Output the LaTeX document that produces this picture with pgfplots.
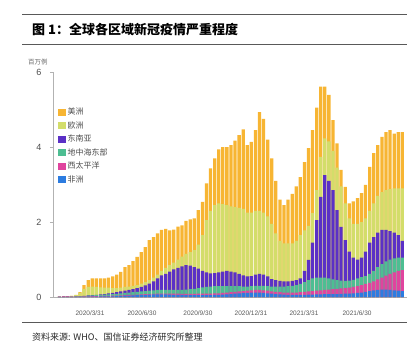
\documentclass[border=0pt]{standalone}
\usepackage{fontspec}
\setmainfont{Liberation Sans}
\newfontfamily\cjk{Noto Sans CJK SC}
\usepackage{pgfplots}
\pgfplotsset{compat=1.18}
\usepackage{pgfplotstable}
\definecolor{amr}{HTML}{F7B533}
\definecolor{eur}{HTML}{D3DD6A}
\definecolor{sea}{HTML}{5B30C6}
\definecolor{emr}{HTML}{4DBE92}
\definecolor{wpr}{HTML}{E0449E}
\definecolor{afr}{HTML}{2C7CE0}
% cumulative tops of each stacked layer (millions per week)
\pgfplotstableread{
k A W E S U T
-5 0 0.01 0.01 0.01 0.01 0.01
-4 0 0.015 0.015 0.015 0.015 0.015
-3 0 0.015 0.015 0.015 0.02 0.02
-2 0 0.01 0.012 0.012 0.03 0.03
-1 0.001 0.008 0.015 0.016 0.05 0.06
0 0.003 0.01 0.015 0.02 0.11 0.13
1 0.005 0.015 0.025 0.03 0.22 0.32
2 0.01 0.02 0.04 0.045 0.27 0.45
3 0.01 0.025 0.045 0.05 0.28 0.50
4 0.012 0.025 0.05 0.055 0.27 0.50
5 0.015 0.03 0.06 0.07 0.26 0.50
6 0.015 0.03 0.065 0.08 0.25 0.50
7 0.02 0.03 0.07 0.10 0.25 0.52
8 0.02 0.035 0.075 0.11 0.24 0.55
9 0.025 0.04 0.085 0.13 0.24 0.60
10 0.03 0.045 0.095 0.15 0.25 0.67
11 0.035 0.05 0.11 0.17 0.27 0.80
12 0.04 0.055 0.12 0.19 0.28 0.85
13 0.045 0.06 0.13 0.21 0.30 0.96
14 0.05 0.065 0.14 0.24 0.32 1.07
15 0.055 0.07 0.15 0.27 0.36 1.20
16 0.06 0.075 0.16 0.31 0.40 1.33
17 0.065 0.08 0.17 0.36 0.45 1.52
18 0.07 0.085 0.18 0.42 0.52 1.60
19 0.07 0.09 0.19 0.50 0.60 1.70
20 0.07 0.09 0.19 0.58 0.70 1.79
21 0.07 0.09 0.19 0.62 0.78 1.82
22 0.065 0.09 0.19 0.68 0.85 1.78
23 0.06 0.09 0.19 0.74 0.92 1.80
24 0.06 0.09 0.19 0.78 1.00 1.88
25 0.055 0.085 0.19 0.82 1.08 1.91
26 0.05 0.085 0.20 0.85 1.15 2.03
27 0.05 0.085 0.21 0.84 1.20 2.07
28 0.05 0.085 0.22 0.80 1.25 2.10
29 0.05 0.09 0.24 0.76 1.40 2.32
30 0.05 0.09 0.26 0.70 1.65 2.54
31 0.05 0.09 0.27 0.66 2.05 3.03
32 0.05 0.09 0.28 0.63 2.30 3.43
33 0.055 0.095 0.29 0.64 2.45 3.70
34 0.06 0.10 0.29 0.66 2.50 3.94
35 0.065 0.11 0.29 0.68 2.48 4.00
36 0.07 0.12 0.29 0.70 2.45 4.00
37 0.08 0.13 0.29 0.68 2.42 4.05
38 0.09 0.14 0.29 0.66 2.40 4.17
39 0.10 0.15 0.29 0.62 2.38 4.32
40 0.11 0.16 0.28 0.58 2.35 4.47
41 0.11 0.17 0.28 0.55 2.25 4.05
42 0.12 0.18 0.29 0.56 2.25 4.14
43 0.12 0.19 0.30 0.60 2.30 4.45
44 0.12 0.19 0.30 0.62 2.30 4.93
45 0.11 0.18 0.30 0.60 2.25 4.75
46 0.10 0.17 0.29 0.55 2.15 4.20
47 0.09 0.15 0.28 0.48 1.95 3.70
48 0.08 0.14 0.28 0.45 1.70 3.10
49 0.07 0.13 0.28 0.43 1.50 2.60
50 0.065 0.12 0.28 0.42 1.43 2.45
51 0.06 0.12 0.29 0.42 1.43 2.60
52 0.06 0.12 0.30 0.43 1.43 2.75
53 0.06 0.12 0.32 0.45 1.50 2.95
54 0.06 0.13 0.35 0.50 1.65 3.20
55 0.06 0.14 0.40 0.70 1.78 3.60
56 0.065 0.15 0.45 0.99 1.90 3.97
57 0.065 0.16 0.50 1.45 2.24 4.45
58 0.07 0.17 0.52 2.05 2.85 5.05
59 0.07 0.18 0.52 2.67 3.74 5.61
60 0.075 0.19 0.52 3.25 4.23 5.61
61 0.075 0.20 0.50 3.10 4.15 5.39
62 0.08 0.21 0.47 2.85 3.90 4.72
63 0.08 0.22 0.45 2.32 3.45 4.10
64 0.085 0.23 0.44 1.87 2.95 3.39
65 0.09 0.24 0.43 1.52 2.50 2.94
66 0.09 0.25 0.44 1.21 2.10 2.50
67 0.10 0.27 0.46 1.05 1.95 2.55
68 0.11 0.29 0.50 1.00 1.95 2.64
69 0.12 0.32 0.53 1.05 2.00 2.77
70 0.14 0.35 0.56 1.21 2.10 2.99
71 0.16 0.38 0.62 1.45 2.30 3.47
72 0.18 0.42 0.70 1.60 2.50 3.84
73 0.19 0.47 0.80 1.72 2.70 4.05
74 0.20 0.52 0.88 1.79 2.80 4.27
75 0.20 0.57 0.95 1.79 2.85 4.40
76 0.19 0.62 1.00 1.76 2.88 4.45
77 0.18 0.66 1.03 1.72 2.90 4.36
78 0.17 0.70 1.05 1.65 2.90 4.40
79 0.16 0.72 1.05 1.50 2.90 4.40
}\data
\pgfplotsset{leg/.style={legend image code/.code={\fill[##1] (0pt,-3.5pt) rectangle (7.5pt,3.5pt);}}}
\begin{document}
\begin{tikzpicture}
\useasboundingbox (0pt,0pt) rectangle (407pt,-356pt);
\draw[line width=0.9pt, black!65] (22pt,-14pt) -- (407pt,-14pt);
\draw[line width=0.8pt, black!65] (22pt,-44pt) -- (407pt,-44pt);
\node[anchor=west, inner sep=0pt, font=\cjk\bfseries\fontsize{13}{13}\selectfont] at (32pt,-30pt) {图 1：全球各区域新冠疫情严重程度};
\node[anchor=west, inner sep=0pt, font=\cjk\fontsize{6.5}{6.5}\selectfont, text=black!60] at (28pt,-62pt) {百万例};
\draw[line width=0.8pt, black!65] (22pt,-322pt) -- (407pt,-322pt);
\node[anchor=west, inner sep=0pt, font=\cjk\fontsize{9}{9}\selectfont, text=black!85] at (32pt,-337pt) {资料来源: WHO、国信证券经济研究所整理};
\begin{axis}[
  at={(53pt,-297pt)}, anchor=south west, scale only axis,
  width=354pt, height=225pt,
  ymin=0, ymax=6, xmin=-6.62, xmax=80.15,
  ybar, bar shift=0pt, bar width=0.8,
  ytick={0,2,4,6},
  xtick={2.45,15.2,28.9,41.9,54.9,67.9},
  xticklabels={2020/3/31,2020/6/30,2020/9/30,2020/12/31,2021/3/31,2021/6/30},
  axis x line*=bottom, axis y line*=left,
  axis line style={draw=black!30, line width=0.7pt},
  tick align=outside, major tick length=3pt,
  x tick style={draw=none},
  y tick style={draw=black!30},
  /pgf/number format/assume math mode=true,
  yticklabel style={font=\fontsize{9}{9}\selectfont, text=black!70, xshift=-5pt},
  xticklabel style={font=\fontsize{6.5}{6.5}\selectfont, text=black!65, yshift=-7pt},
  legend style={at={(0.014,0.85)}, anchor=north west, draw=none, fill=none,
    inner sep=0pt, row sep=1.3pt,
    font=\cjk\fontsize{8}{8}\selectfont, text=black!70},
  legend cell align=left,
]
\addplot[fill=amr, draw=none, leg] table[x=k, y=T] {\data};
\addlegendentry{美洲}
\addplot[fill=eur, draw=none, leg] table[x=k, y=U] {\data};
\addlegendentry{欧洲}
\addplot[fill=sea, draw=none, leg] table[x=k, y=S] {\data};
\addlegendentry{东南亚}
\addplot[fill=emr, draw=none, leg] table[x=k, y=E] {\data};
\addlegendentry{地中海东部}
\addplot[fill=wpr, draw=none, leg] table[x=k, y=W] {\data};
\addlegendentry{西太平洋}
\addplot[fill=afr, draw=none, leg] table[x=k, y=A] {\data};
\addlegendentry{非洲}
\end{axis}
\end{tikzpicture}
\end{document}
